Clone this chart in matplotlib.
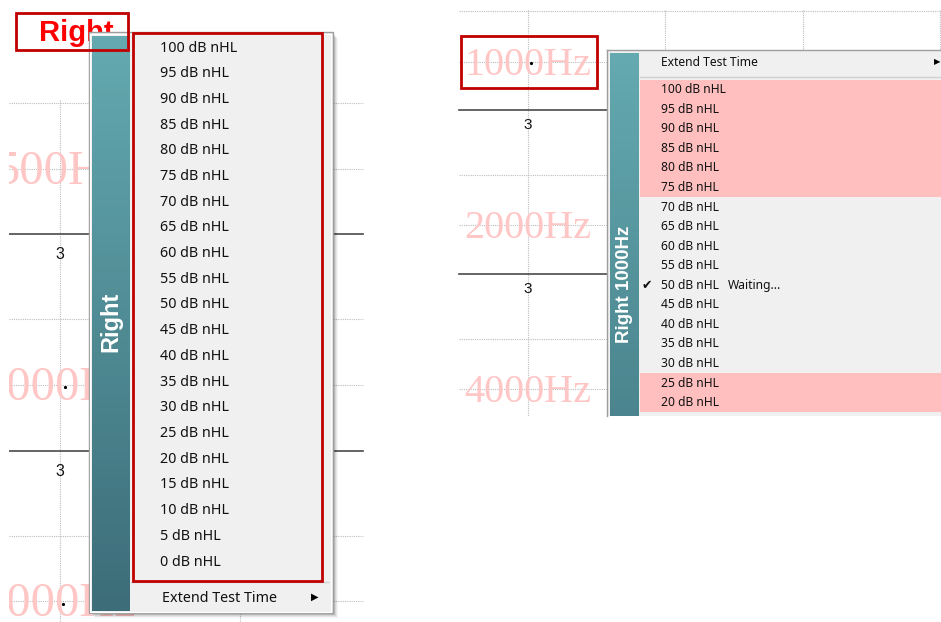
import numpy as np
import matplotlib
matplotlib.use("Agg")
import matplotlib.pyplot as plt
from matplotlib.patches import Rectangle
from matplotlib.colors import LinearSegmentedColormap

# --- content ---
left_levels = [100, 95, 90, 85, 80, 75, 70, 65, 60, 55, 50,
               45, 40, 35, 30, 25, 20, 15, 10, 5, 0]
right_levels = [100, 95, 90, 85, 80, 75, 70, 65, 60, 55, 50,
                45, 40, 35, 30, 25, 20]
right_highlight = [100, 95, 90, 85, 80, 75, 25, 20]
right_selected = 50
left_freqs = ["500Hz", "1000Hz", "2000Hz"]
right_freqs = ["1000Hz", "2000Hz", "4000Hz"]
left_title = "Right"
right_title = "Right 1000Hz"
extend_label = "Extend Test Time"
status_label = "Waiting..."
tick_label = "3"

UI_FONT = ["Noto Sans", "DejaVu Sans"]
TEXT = "#101010"
MENU_BG = "#F0F0F0"
PINK = "#FFBFBF"
HZ_PINK = "#FFC6C6"
BOX_RED = "#C00000"
GRID = "#BDBDBD"
teal_cmap = LinearSegmentedColormap.from_list("teal", ["#64AAB0", "#3C6D79"])

fig = plt.figure(figsize=(9.41, 6.22), dpi=100)
ax = fig.add_axes([0, 0, 1, 1])
ax.set_xlim(0, 941)
ax.set_ylim(622, 0)
ax.axis("off")


def grid_panel(x0, x1, y0, y1, vlines, solid, dotted, labels, label_x, fsize,
               tick_dy, tick_fs, dots):
    for x in vlines:
        ax.plot([x, x], [y0, y1], color=GRID, lw=0.8, ls=(0, (1, 1)), zorder=1)
    for y in dotted:
        ax.plot([x0, x1], [y, y], color=GRID, lw=0.8, ls=(0, (1, 1)), zorder=1)
    for y in solid:
        ax.plot([x0, x1], [y, y], color="#4A4A4A", lw=1.2, zorder=2)
        ax.text(label_x, y + tick_dy, tick_label, ha="center", va="center",
                fontsize=tick_fs, family="Liberation Sans", color="#111111", zorder=2)
    for (txt, y) in labels:
        ax.text(label_x, y + 3.5, txt, ha="center", va="center", fontsize=fsize,
                family="Liberation Serif", color=HZ_PINK, zorder=1)
    for (dx, dy) in dots:
        ax.plot(dx, dy, marker="o", ms=1.3, color="black", zorder=2)


# ---------------- left panel ----------------
grid_panel(9, 363, 100, 622, [60, 240], [234, 451], [103, 169, 319, 385, 536, 601],
           list(zip(left_freqs, [169, 385, 601])), 60, 35, 20.5, 11.5,
           [(65, 387), (63, 604)])
ax.add_patch(Rectangle((0, 0), 9, 622, facecolor="white", edgecolor="none", zorder=3))

ax.text(76, 33, left_title, ha="center", va="center", fontsize=21, fontweight="bold",
        family="Liberation Sans", color="#FF0000", zorder=3)

# menu frame + soft shadow
for k, a in enumerate([0.10, 0.08, 0.06, 0.04]):
    ax.add_patch(Rectangle((92 + k, 35 + k), 243, 580, facecolor="#000000", alpha=a,
                           edgecolor="none", zorder=4))
ax.add_patch(Rectangle((89, 32), 244, 581, facecolor=MENU_BG, edgecolor="#9E9E9E",
                       lw=1.0, zorder=5))
ax.add_patch(Rectangle((90.5, 33.5), 241, 578, fill=False, edgecolor="white",
                       lw=0.8, zorder=5))
ax.imshow(np.linspace(0, 1, 256).reshape(-1, 1), cmap=teal_cmap, aspect="auto",
          extent=[92, 130, 611, 36], zorder=6)
ax.text(111, 322, left_title, rotation=90, ha="center", va="center", fontsize=17,
        fontweight="bold", family="Liberation Sans", color="white", zorder=7)

row_h = 25.7
for i, lvl in enumerate(left_levels):
    ax.text(160, 48 + i * row_h, f"{lvl} dB nHL", ha="left", va="center",
            fontsize=10.3, family=UI_FONT, color=TEXT, zorder=7)
ax.plot([131, 328], [582, 582], color="#D0D0D0", lw=1, zorder=6)
ax.text(162, 598, extend_label, ha="left", va="center", fontsize=10.3,
        family=UI_FONT, color=TEXT, zorder=7)
ax.text(315, 597, "\u25B6", ha="center", va="center", fontsize=7,
        family="DejaVu Sans", color="black", zorder=7)

# red highlight boxes (drawn on top)
ax.add_patch(Rectangle((16, 13), 112, 37, fill=False, edgecolor=BOX_RED, lw=2, zorder=9))
ax.add_patch(Rectangle((133, 33), 189, 548, fill=False, edgecolor=BOX_RED, lw=2, zorder=9))

# ---------------- right panel ----------------
grid_panel(459, 941, 10, 416, [528, 665, 803, 940], [110, 274], [11, 62, 175, 225, 339, 389],
           list(zip(right_freqs, [62, 225, 389])), 528, 29, 15, 11,
           [(531, 63)])

ax.add_patch(Rectangle((607, 50), 340, 366, facecolor=MENU_BG, edgecolor="none", zorder=5))
ax.plot([607, 607], [50, 416], color="#9E9E9E", lw=1, zorder=6)
ax.plot([607, 941], [50, 50], color="#9E9E9E", lw=1, zorder=6)
ax.imshow(np.linspace(0, 0.62, 256).reshape(-1, 1), cmap=teal_cmap, aspect="auto",
          extent=[610, 639, 416, 53], vmin=0, vmax=1, zorder=6)
ax.text(624.5, 284, right_title, rotation=90, ha="center", va="center", fontsize=13.5,
        fontweight="bold", family="Liberation Sans", color="white", zorder=7)

ax.text(661, 62, extend_label, ha="left", va="center", fontsize=8.7,
        family=UI_FONT, color=TEXT, zorder=7)
ax.text(937, 62, "\u25B6", ha="center", va="center", fontsize=6,
        family="DejaVu Sans", color="black", zorder=7)
ax.plot([640, 941], [77, 77], color="#D0D0D0", lw=1, zorder=6)

r_top, r_h = 80, 19.55
for i, lvl in enumerate(right_levels):
    yc = r_top + r_h * (i + 0.5)
    if lvl in right_highlight:
        ax.add_patch(Rectangle((640, r_top + r_h * i), 301, r_h, facecolor=PINK,
                               edgecolor="none", zorder=6))
    ax.text(661, yc, f"{lvl} dB nHL", ha="left", va="center", fontsize=8.7,
            family=UI_FONT, color=TEXT, zorder=7)
    if lvl == right_selected:
        ax.text(647, yc, "\u2714", ha="center", va="center", fontsize=9,
                family="DejaVu Sans", color=TEXT, zorder=7)
        ax.text(728, yc, status_label, ha="left", va="center", fontsize=8.7,
                family=UI_FONT, color=TEXT, zorder=7)

ax.add_patch(Rectangle((461, 36), 136, 52, fill=False, edgecolor=BOX_RED, lw=2, zorder=9))

ax.set_xlim(0, 941)
ax.set_ylim(622, 0)
fig.savefig("out.png", dpi=100)
